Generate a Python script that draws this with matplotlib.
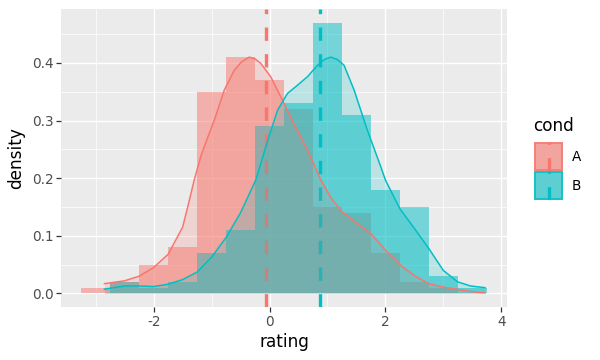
import matplotlib

matplotlib.use("Agg")
import matplotlib.pyplot as plt
from matplotlib.patches import Rectangle

# histogram (density scale), bins of width 0.5 centred on these values
bin_centers = [-3.0, -2.5, -2.0, -1.5, -1.0, -0.5, 0.0, 0.5, 1.0, 1.5, 2.0, 2.5, 3.0, 3.5]
hist_a = [0.01, 0.02, 0.05, 0.08, 0.35, 0.41, 0.37, 0.32, 0.15, 0.14, 0.07, 0.02, 0.01, 0.0]
hist_b = [0.0, 0.02, 0.01, 0.02, 0.07, 0.11, 0.29, 0.33, 0.47, 0.31, 0.18, 0.15, 0.03, 0.01]

# kernel density curves
dens_a_x = [-2.85, -2.5, -2.25, -2.0, -1.75, -1.5, -1.4, -1.3, -1.18, -1.07, -0.955, -0.78,
            -0.61, -0.48, -0.35, -0.25, -0.15, 0.02, 0.195, 0.42, 0.655, 0.885, 1.06, 1.25,
            1.52, 1.75, 2.03, 2.25, 2.5, 2.75, 3.0, 3.25, 3.5, 3.72]
dens_a_y = [0.017, 0.022, 0.03, 0.045, 0.068, 0.115, 0.155, 0.197, 0.24, 0.27, 0.30, 0.353,
            0.387, 0.402, 0.41, 0.407, 0.399, 0.376, 0.341, 0.295, 0.249, 0.197, 0.166, 0.142,
            0.121, 0.104, 0.072, 0.05, 0.031, 0.017, 0.011, 0.007, 0.003, 0.001]
dens_b_x = [-2.85, -2.5, -2.25, -2.0, -1.75, -1.5, -1.25, -1.0, -0.75, -0.5, -0.236, -0.03,
            0.14, 0.31, 0.48, 0.655, 0.83, 0.95, 1.057, 1.17, 1.286, 1.46, 1.69, 1.92, 2.0,
            2.25, 2.5, 2.75, 3.0, 3.25, 3.47, 3.72]
dens_b_y = [0.0075, 0.013, 0.013, 0.012, 0.016, 0.024, 0.037, 0.063, 0.097, 0.14, 0.197,
            0.266, 0.318, 0.347, 0.361, 0.376, 0.396, 0.406, 0.41, 0.406, 0.396, 0.353, 0.283,
            0.22, 0.197, 0.147, 0.113, 0.078, 0.04, 0.02, 0.013, 0.01]

groups = ["A", "B"]
means = [-0.058, 0.873]
colors = ["#F8766D", "#00BFC4"]

x_ticks = [-2, 0, 2, 4]
y_ticks = [0.0, 0.1, 0.2, 0.3, 0.4]

BG = "#EBEBEB"
dash = (0, (4, 4))

fig = plt.figure(figsize=(6, 3.6), dpi=100)
ax = fig.add_axes([61 / 600, 1 - 307 / 360, 446 / 600, 298 / 360])
ax.set_facecolor(BG)
for s in ax.spines.values():
    s.set_visible(False)

# histograms
for h, c in zip([hist_a, hist_b], colors):
    ax.bar(bin_centers, h, width=0.5, color=c, alpha=0.5, linewidth=0, zorder=2)

# means
for m, c in zip(means, colors):
    ax.axvline(m, color=c, lw=2.4, linestyle=dash, zorder=3)

# densities
for dx, dy, c in zip([dens_a_x, dens_b_x], [dens_a_y, dens_b_y], colors):
    ax.fill_between(dx, 0, dy, color=c, alpha=0.2, linewidth=0, zorder=4)
    ax.plot(dx, dy, color=c, lw=1.1, zorder=5, solid_joinstyle="round")

ax.set_xlim(-3.6, 4.1)
ax.set_ylim(-0.0235, 0.4935)
ax.set_xticks(x_ticks)
ax.set_yticks(y_ticks)
ax.set_xticklabels([f"{t:g}" for t in x_ticks])
ax.set_yticklabels([f"{t:.1f}" for t in y_ticks])
ax.set_xticks([-3, -1, 1, 3], minor=True)
ax.set_yticks([0.05, 0.15, 0.25, 0.35, 0.45], minor=True)
ax.grid(which="major", color="white", lw=1.0, zorder=0)
ax.grid(which="minor", color="white", lw=0.5, zorder=0)
ax.set_axisbelow(True)
ax.tick_params(which="major", length=3.5, width=0.9, color="#333333",
               labelsize=9.8, labelcolor="#4D4D4D", pad=2)
ax.tick_params(which="minor", length=0)
ax.set_xlabel("rating", fontsize=12.2, labelpad=3)
ax.set_ylabel("density", fontsize=12.2, labelpad=5)

# legend drawn by hand
fig.text(533 / 600, 1 - 126 / 360, "cond", fontsize=12.2, va="center", ha="left")
for i, (g, c) in enumerate(zip(groups, colors)):
    top = 142 + 29 * i
    kax = fig.add_axes([534 / 600, 1 - (top + 29) / 360, 29 / 600, 29 / 360])
    kax.set_xlim(0, 1)
    kax.set_ylim(0, 1)
    kax.axis("off")
    kax.add_patch(Rectangle((0, 0), 1, 1, color=BG, lw=0))
    kax.add_patch(Rectangle((0, 0), 1, 1, color=c, alpha=0.5, lw=0))
    kax.add_patch(Rectangle((0.03, 0.03), 0.94, 0.94, facecolor=c, alpha=0.2, lw=0))
    kax.add_patch(Rectangle((0.03, 0.03), 0.94, 0.94, facecolor="none", edgecolor=c, lw=1.1))
    kax.axvline(0.5, color=c, lw=2.4, linestyle=dash)
    fig.text(572 / 600, 1 - (top + 15) / 360, g, fontsize=9.8, va="center", ha="left")

fig.savefig("out.png", dpi=100)
